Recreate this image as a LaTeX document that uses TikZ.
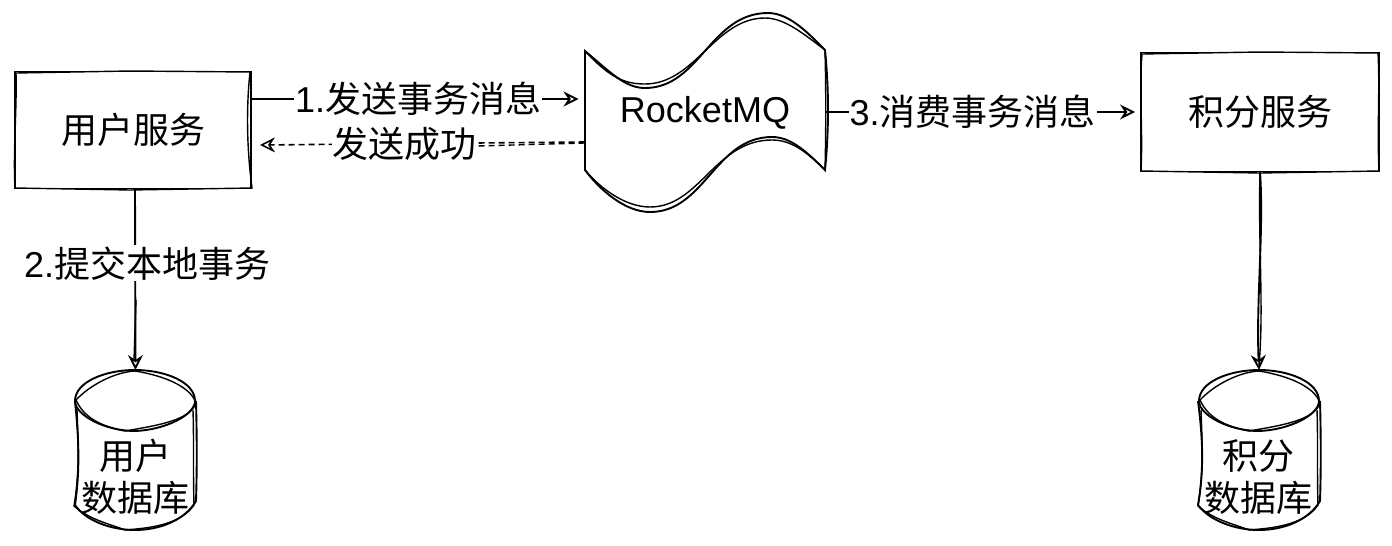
\documentclass[tikz,border=0pt]{standalone}
\usepackage{fontspec}
\setmainfont{Liberation Sans}
\newfontfamily\cjk{Noto Sans CJK SC}
\usetikzlibrary{arrows.meta}
\tikzset{
  ink/.style={line width=1.9pt,draw=black},
  thin ink/.style={line width=1.4pt,draw=black},
  lbl/.style={fill=white,inner sep=1pt,outer sep=0pt,font=\fontsize{36}{40}\selectfont},
  boxtext/.style={inner sep=0pt,outer sep=0pt,align=center,font=\fontsize{36}{42}\selectfont},
  arr/.style={ink,-{Stealth[open,length=15pt,width=15pt,inset=5pt]}},
  dasharr/.style={arr,dash pattern=on 6pt off 4pt}
}
\begin{document}
\begin{tikzpicture}[x=1pt,y=-1pt]
\useasboundingbox (0,0) rectangle (1392,546);
% nodes
\node[boxtext,minimum width=236pt,minimum height=117pt] (user) at (133,130) {\cjk 用户服务};
\node[boxtext,minimum width=241pt,minimum height=120pt] (mq) at (705,113) {RocketMQ};
\node[boxtext,minimum width=238pt,minimum height=119pt] (points) at (1260,112) {\cjk 积分服务};
\node[boxtext,minimum width=121pt,minimum height=160pt] (userdb) at (135.5,450) {};
\node[boxtext,minimum width=122pt,minimum height=160pt] (pointsdb) at (1259,450) {};
\node[boxtext] (userdbt) at (135,477) {\cjk 用户\\\cjk 数据库};
\node[boxtext] (pointsdbt) at (1258,477) {\cjk 积分\\\cjk 数据库};
% user box
\draw[ink] (user.north west) -- (user.north east) -- (user.south east) -- (user.south west) -- cycle;
\draw[thin ink] (16,73) -- (130,71) -- (250,72) .. controls (246,110) and (247,150) .. (252,188) -- (130,190) -- (15,188) .. controls (13,150) and (17,110) .. (16,73);
% points box
\draw[ink] (points.north west) -- (points.north east) -- (points.south east) -- (points.south west) -- cycle;
\draw[thin ink] (1142,54) -- (1260,52) -- (1378,53) .. controls (1380,90) and (1377,130) .. (1379,171) -- (1260,173) -- (1141,171) .. controls (1143,130) and (1139,90) .. (1142,54);
% mq wave
\draw[ink] (585,51) .. controls (610,72) and (625,88) .. (645,88) .. controls (700,88) and (710,13) .. (768,13) .. controls (790,13) and (810,35) .. (825,50) .. controls (829,90) and (829,130) .. (825,170) .. controls (805,150) and (790,137) .. (772,137) .. controls (715,137) and (705,212) .. (650,212) .. controls (625,212) and (600,190) .. (585,170) -- cycle;
\draw[thin ink] (585,51) .. controls (610,78) and (625,84) .. (645,84) .. controls (695,84) and (715,18) .. (765,18) .. controls (785,18) and (805,35) .. (825,50) .. controls (826,90) and (826,130) .. (825,170) .. controls (805,150) and (790,140) .. (772,140) .. controls (715,140) and (700,207) .. (650,207) .. controls (625,207) and (600,188) .. (585,170);
% user cylinder
\draw[ink] (75,401) .. controls (75,382) and (105,370) .. (135,370) .. controls (165,370) and (195,382) .. (195,401) .. controls (195,415) and (165,430) .. (135,431) .. controls (105,431) and (75,415) .. (75,401);
\draw[thin ink] (76,400) .. controls (90,385) and (115,372) .. (135,371) .. controls (160,375) and (190,385) .. (196,403) .. controls (190,420) and (160,425) .. (125,431) .. controls (105,427) and (85,420) .. (76,400);
\draw[ink] (userdb.west |- 0,401) .. controls (79,440) and (80,470) .. (75,505) .. controls (85,520) and (110,530) .. (135,530) .. controls (160,530) and (185,520) .. (196,501) .. controls (197,470) and (197,440) .. (196,401);
\draw[thin ink] (77,410) .. controls (78,440) and (80,470) .. (74,506) .. controls (90,520) and (110,524) .. (125,530) .. controls (150,528) and (180,525) .. (194,505) .. controls (193,470) and (194,440) .. (193,410);
% points cylinder
\draw[ink] (1199,401) .. controls (1199,382) and (1229,370) .. (1259,370) .. controls (1289,370) and (1319,382) .. (1319,401) .. controls (1319,415) and (1289,430) .. (1259,431) .. controls (1229,431) and (1199,415) .. (1199,401);
\draw[thin ink] (1200,400) .. controls (1214,385) and (1239,372) .. (1259,371) .. controls (1284,375) and (1314,385) .. (1320,403) .. controls (1314,420) and (1284,425) .. (1249,431) .. controls (1229,427) and (1209,420) .. (1200,400);
\draw[ink] (pointsdb.west |- 0,401) .. controls (1203,440) and (1204,470) .. (1198,505) .. controls (1209,520) and (1234,530) .. (1259,530) .. controls (1284,530) and (1309,520) .. (1320,501) .. controls (1321,470) and (1321,440) .. (1320,401);
\draw[thin ink] (1201,410) .. controls (1202,440) and (1204,470) .. (1198,506) .. controls (1214,520) and (1234,524) .. (1249,530) .. controls (1274,528) and (1304,525) .. (1318,505) .. controls (1317,470) and (1318,440) .. (1317,410);
% connectors
\draw[thin ink,dash pattern=on 6pt off 4pt] ([yshift=-30pt]mq.west) -- ([xshift=-108pt,yshift=-33pt]mq.west);
\draw[arr] ([yshift=31pt]user.east) -- node[pos=.51,lbl] (l1) {1.\cjk 发送事务消息} ([xshift=-6pt,yshift=14pt]mq.west);
\draw[dasharr,line width=1.6pt] ([yshift=-29pt]mq.west) -- node[pos=.554,lbl] (l2) {\cjk 发送成功} ([xshift=9pt,yshift=-15pt]user.east);
\draw[arr] ([yshift=1pt]mq.east) -- node[pos=.475,lbl] (l3) {3.\cjk 消费事务消息} ([xshift=-6pt]points.west);
\draw[arr] (135,189) -- node[pos=.41,lbl,xshift=12pt] (l4) {2.\cjk 提交本地事务} (userdb.north);
\draw[thin ink] (136,300) -- (134,360);
\draw[arr] (points.south) .. controls (1264,230) and (1256,300) .. (pointsdb.north);
\draw[thin ink] (1260,172) .. controls (1258,240) and (1264,310) .. (1259,365);
\end{tikzpicture}
\end{document}
